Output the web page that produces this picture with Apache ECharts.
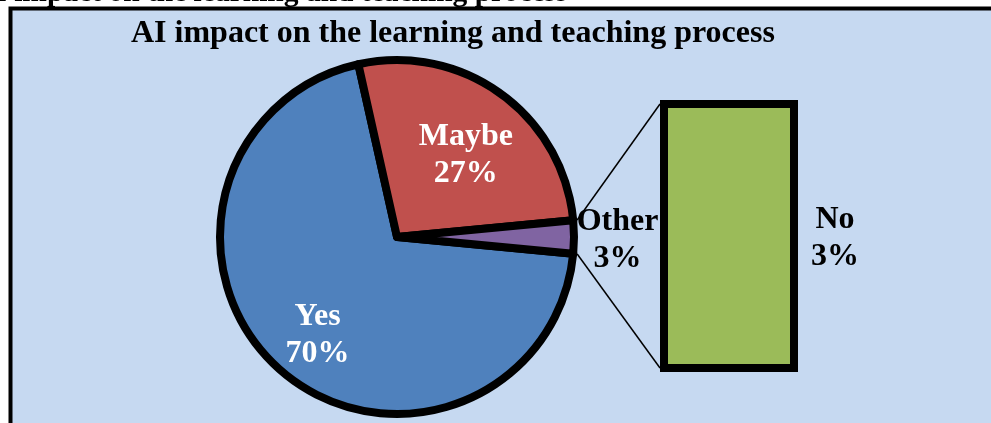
<!DOCTYPE html>
<html>
<head>
<meta charset="utf-8">
<script src="https://cdn.jsdelivr.net/npm/echarts@6/dist/echarts.min.js"></script>
<style>
  html, body { margin: 0; padding: 0; background: #fff; }
  #chart { width: 991px; height: 423px; }
</style>
</head>
<body>
<div id="chart"></div>
<script>
// pie answers
const pieNames = ["Yes", "Maybe", "Other"];
const pieValues = [70, 27, 3];
// breakdown of "Other"
const barNames = ["No"];
const barValues = [3];

const titleText = "AI impact on the learning and teaching process";
const colors = { Yes: "#4F81BD", Maybe: "#C0504D", Other: "#8064A2", No: "#9BBB59" };
const font = "'Liberation Serif', 'Times New Roman', serif";

const pieCenter = [397, 237];
const pieRadius = 177;
const edge = 8;
const barGrid = { left: 660, top: 100, width: 138, height: 272 };

// nudges for the slice labels (px)
const labelNudge = { Yes: [-19, 30], Maybe: [15, -8], Other: [129, 3] };

const total = pieValues.reduce((a, b) => a + b, 0);
const otherAngle = pieValues[2] / total * 360;

// connector lines: edge of the "Other" slice -> left side of the bar
const rad = (otherAngle / 2) * Math.PI / 180;
const rOut = pieRadius + edge / 2;
const sliceX = pieCenter[0] + rOut * Math.cos(rad);
const sliceDy = rOut * Math.sin(rad);

const chart = echarts.init(document.getElementById("chart"), null, { renderer: "canvas" });

const option = {
  animation: false,
  backgroundColor: "#fff",
  title: {
    text: titleText,
    left: 131,
    top: 18,
    padding: 0,
    textStyle: { fontFamily: font, fontSize: 32, fontWeight: "bold", color: "#000", lineHeight: 32 }
  },
  graphic: [
    {
      type: "rect",
      z: -10,
      shape: { x: 10.5, y: 8.5, width: 1000, height: 500 },
      style: { fill: "#C6D9F1", stroke: "#000", lineWidth: 4 }
    },
    {
      type: "text",
      z: -5,
      x: -26,
      y: -7,
      style: {
        text: titleText,
        font: "bold 29.5px " + font,
        fill: "#000",
        verticalAlign: "middle"
      }
    },
    {
      type: "line",
      shape: { x1: sliceX, y1: pieCenter[1] - sliceDy, x2: barGrid.left, y2: barGrid.top + edge / 2 },
      style: { stroke: "#000", lineWidth: 1.5 }
    },
    {
      type: "line",
      shape: { x1: sliceX, y1: pieCenter[1] + sliceDy, x2: barGrid.left, y2: barGrid.top + barGrid.height - edge / 2 },
      style: { stroke: "#000", lineWidth: 1.5 }
    }
  ],
  grid: barGrid,
  xAxis: { type: "category", data: barNames, show: false },
  yAxis: { type: "value", min: 0, max: barValues[0], show: false },
  series: [
    {
      type: "pie",
      center: pieCenter,
      radius: pieRadius,
      startAngle: -otherAngle / 2,
      clockwise: true,
      data: pieNames.map((n, i) => ({
        name: n,
        value: pieValues[i],
        itemStyle: { color: colors[n] },
        label: n === "Other" ? { color: "#000" } : undefined
      })),
      itemStyle: { borderColor: "#000", borderWidth: edge },
      label: {
        position: "inside",
        formatter: "{b}\n{d}%",
        fontFamily: font,
        fontSize: 32,
        fontWeight: "bold",
        lineHeight: 37,
        color: "#fff"
      },
      labelLayout: function (p) {
        const n = labelNudge[pieNames[p.dataIndex]];
        return { dx: n[0], dy: n[1] };
      },
      labelLine: { show: false },
      emphasis: { disabled: true }
    },
    {
      type: "bar",
      data: barValues.map((v, i) => ({ name: barNames[i], value: v })),
      barWidth: "100%",
      itemStyle: { color: colors.No, borderColor: "#000", borderWidth: edge },
      label: {
        show: true,
        position: "right",
        distance: 37,
        offset: [0, 2],
        align: "center",
        formatter: "{b}\n{c}%",
        fontFamily: font,
        fontSize: 32,
        fontWeight: "bold",
        lineHeight: 37,
        color: "#000"
      },
      emphasis: { disabled: true }
    }
  ]
};

chart.setOption(option);
</script>
</body>
</html>
